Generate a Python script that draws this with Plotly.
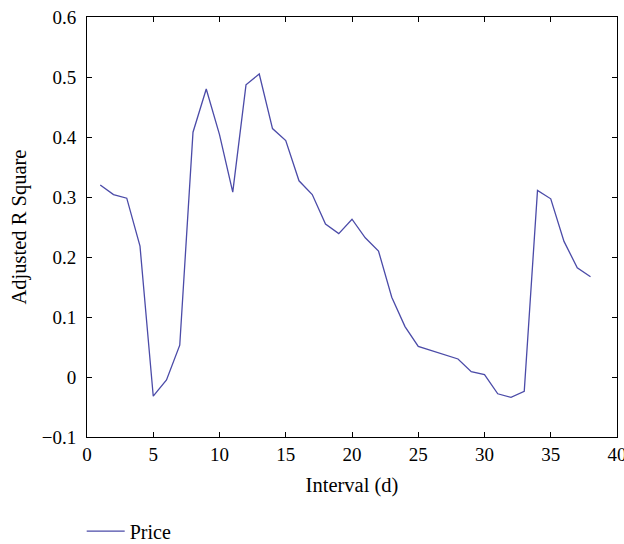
import plotly.graph_objects as go

intervals = list(range(1, 39))
price_r2 = [0.320, 0.304, 0.298, 0.218, -0.032, -0.005, 0.053, 0.408, 0.480, 0.404,
            0.308, 0.487, 0.505, 0.414, 0.394, 0.327, 0.304, 0.255, 0.239, 0.263,
            0.232, 0.210, 0.133, 0.084, 0.051, 0.044, 0.037, 0.030, 0.009, 0.004,
            -0.028, -0.034, -0.024, 0.311, 0.297, 0.226, 0.182, 0.167]

x_ticks = [0, 5, 10, 15, 20, 25, 30, 35, 40]
y_ticks = [-0.1, 0, 0.1, 0.2, 0.3, 0.4, 0.5, 0.6]
y_tick_text = ["\u22120.1", "0", "0.1", "0.2", "0.3", "0.4", "0.5", "0.6"]

font_family = "Liberation Serif, Times New Roman, serif"

fig = go.Figure()
fig.add_trace(go.Scatter(
    x=intervals, y=price_r2, mode="lines", name="Price",
    line=dict(color="#4B4BA8", width=1.3),
))

axis_common = dict(
    showline=True, linecolor="black", linewidth=1, mirror="ticks",
    ticks="inside", ticklen=5, tickcolor="black", tickwidth=1,
    showgrid=False, zeroline=False, ticklabeloverflow="allow",
    tickfont=dict(family=font_family, size=19, color="black"),
)

fig.update_layout(
    width=624, height=544,
    margin=dict(l=87, r=7, t=17, b=107, autoexpand=False),
    paper_bgcolor="white", plot_bgcolor="white",
    font=dict(family=font_family, size=18, color="black"),
    xaxis=dict(range=[0, 40], tickvals=x_ticks, ticktext=[str(v) for v in x_ticks],
               title=dict(text="Interval (d)", font=dict(family=font_family, size=20.5), standoff=13),
               **axis_common),
    yaxis=dict(range=[-0.1, 0.6], tickvals=y_ticks, ticktext=y_tick_text,
               ticklabelstandoff=6,
               title=dict(text="Adjusted R Square", font=dict(family=font_family, size=20.5), standoff=9),
               **axis_common),
    showlegend=True,
    legend=dict(orientation="h", x=-0.01, xanchor="left", y=-0.224, yanchor="middle",
                font=dict(family=font_family, size=20), itemwidth=38,
                bgcolor="rgba(0,0,0,0)"),
)

fig.write_html("out.html")
